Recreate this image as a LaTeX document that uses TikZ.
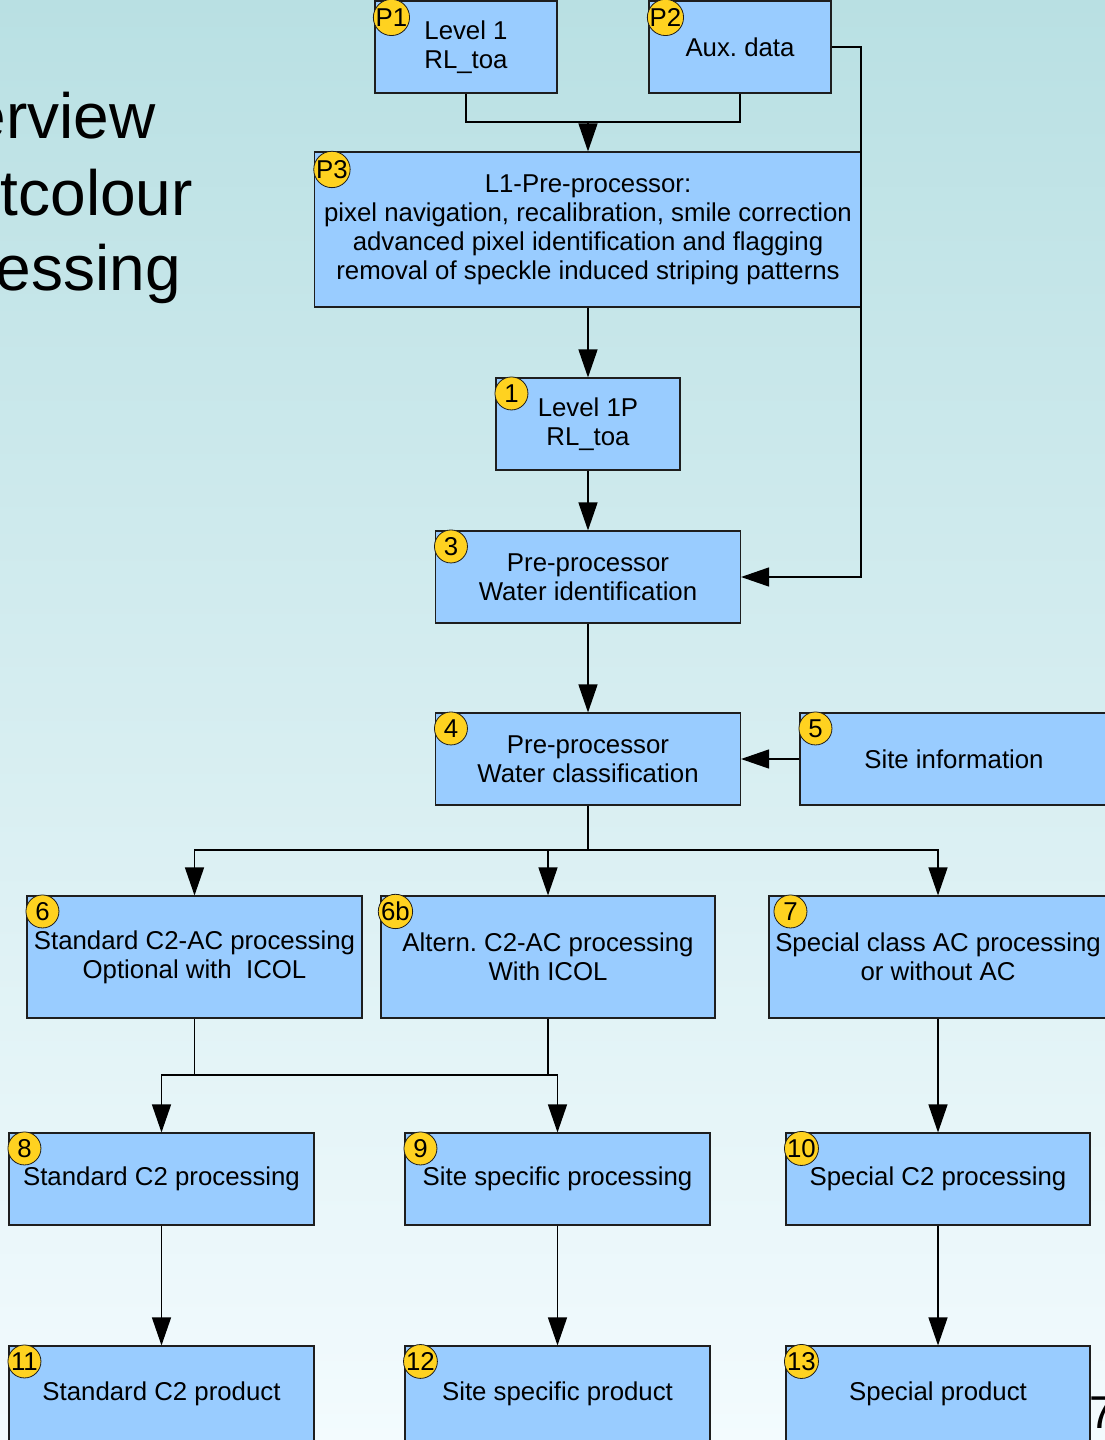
\documentclass[tikz,border=0pt]{standalone}
\usepackage{fontspec}
\setmainfont{Liberation Sans}
\usetikzlibrary{arrows.meta,calc}
\frenchspacing

\definecolor{bgtop}{RGB}{185,224,227}
\definecolor{bgbot}{RGB}{243,251,254}
\definecolor{boxfill}{RGB}{153,204,255}
\definecolor{boxline}{RGB}{30,30,30}
\definecolor{badgefill}{RGB}{255,210,32}

\tikzset{
  stepbox/.style={draw=boxline, line width=1.1pt, fill=boxfill, rectangle,
    align=center, inner sep=0pt, font=\fontsize{25.8}{29}\selectfont},
  badge/.style={circle, draw=boxline, line width=0.8pt, fill=badgefill,
    minimum size=33pt, inner sep=0pt, font=\fontsize{25.8}{29}\selectfont},
  link/.style={draw=black, line width=1.3pt},
  arr/.style={link, -{Triangle[length=28pt,width=19pt]}},
  title/.style={anchor=base east, inner sep=0pt, font=\fontsize{64}{76}\selectfont}
}

\begin{document}
\begin{tikzpicture}[x=1pt, y=-1pt]
  % page background
  \shade[top color=bgtop, bottom color=bgbot] (0,0) rectangle (1105,1440);
  \useasboundingbox (0,0) rectangle (1105,1440);

  % slide title (partly off the page)
  \node[title] (t1) at (156,138) {erview};
  \node[title] (t2) at (193,215) {tcolour};
  \node[title] (t3) at (181,290) {essing};

  % processing steps
  \node[stepbox, minimum width=182pt, minimum height=92pt] (p1) at (466,47) {Level 1\\RL\_toa};
  \node[stepbox, minimum width=182pt, minimum height=92pt] (p2) at (740,47) {Aux. data};
  \node[stepbox, minimum width=547pt, minimum height=155pt] (p3) at (588,229.5)
    {L1-Pre-processor:\\pixel navigation, recalibration, smile correction\\advanced pixel identification and flagging\\removal of speckle induced striping patterns};
  \node[stepbox, minimum width=184pt, minimum height=92pt] (n1) at (588,424) {Level 1P\\RL\_toa};
  \node[stepbox, minimum width=305pt, minimum height=92pt] (n3) at (588,577) {Pre-processor\\Water identification};
  \node[stepbox, minimum width=305pt, minimum height=92pt] (n4) at (588,759) {Pre-processor\\Water classification};
  \node[stepbox, minimum width=308pt, minimum height=92pt] (n5) at (954,759) {Site information};
  \node[stepbox, minimum width=335pt, minimum height=122pt] (n6) at (194.5,957) {Standard C2-AC processing\\Optional with\ \ ICOL};
  \node[stepbox, minimum width=334pt, minimum height=122pt] (n6b) at (548,957) {Altern. C2-AC processing\\With ICOL};
  \node[stepbox, minimum width=338pt, minimum height=122pt] (n7) at (938,957) {Special class AC processing\\or without AC};
  \node[stepbox, minimum width=305pt, minimum height=92pt] (n8) at (161.5,1179) {Standard C2 processing};
  \node[stepbox, minimum width=305pt, minimum height=92pt] (n9) at (557.5,1179) {Site specific processing};
  \node[stepbox, minimum width=304pt, minimum height=92pt] (n10) at (938,1179) {Special C2 processing};
  \node[stepbox, minimum width=305pt, minimum height=96pt] (n11) at (161.5,1394) {Standard C2 product};
  \node[stepbox, minimum width=305pt, minimum height=96pt] (n12) at (557.5,1394) {Site specific product};
  \node[stepbox, minimum width=304pt, minimum height=96pt] (n13) at (938,1394) {Special product};

  % step numbers
  \node[badge] (bp1) at ($(p1.north west)+(17,17)$) {P1};
  \node[badge] (bp2) at ($(p2.north west)+(17,17)$) {P2};
  \node[badge] (bp3) at ($(p3.north west)+(18,18)$) {P3};
  \node[badge] (b1) at ($(n1.north west)+(16,16)$) {1};
  \node[badge] (b3) at ($(n3.north west)+(16,16)$) {3};
  \node[badge] (b4) at ($(n4.north west)+(16,16)$) {4};
  \node[badge] (b5) at ($(n5.north west)+(16,16)$) {5};
  \node[badge] (b6) at ($(n6.north west)+(16,16)$) {6};
  \node[badge] (b6b) at ($(n6b.north west)+(15,16)$) {6b};
  \node[badge] (b7) at ($(n7.north west)+(22,16)$) {7};
  \node[badge] (b8) at ($(n8.north west)+(16,16)$) {8};
  \node[badge] (b9) at ($(n9.north west)+(16,16)$) {9};
  \node[badge] (b10) at ($(n10.north west)+(16,16)$) {10};
  \node[badge] (b11) at ($(n11.north west)+(16,16)$) {11};
  \node[badge] (b12) at ($(n12.north west)+(16,16)$) {12};
  \node[badge] (b13) at ($(n13.north west)+(16,16)$) {13};

  % page number
  \node[anchor=base west, inner sep=0pt, font=\fontsize{46}{50}\selectfont] (pg) at (1089,1428) {7};

  % connectors
  \coordinate (j1) at (588,122);
  \draw[link] (p1.south) |- (j1) -| (p2.south);
  \draw[arr] (j1) -- (p3.north);

  \coordinate (r1) at (861,577);
  \draw[arr] (p2.east) -| (r1) -- (n3.east);

  \draw[arr] (p3.south) -- (n1.north);
  \draw[arr] (n1.south) -- (n3.north);
  \draw[arr] (n3.south) -- (n4.north);
  \draw[arr] (n5.west) -- (n4.east);

  \coordinate (s4) at (588,850);
  \draw[link] (n4.south) -- (s4);
  \draw[arr] (s4) -| (n6.north);
  \draw[arr] (s4) -| (n6b.north);
  \draw[arr] (s4) -| (n7.north);

  \coordinate (j2) at (194.5,1075);
  \draw[link] (n6.south) -- (j2);
  \draw[link] (n6b.south) -- (n6b.south |- j2);
  \draw[arr] (j2) -| (n8.north);
  \draw[arr] (j2) -| (n9.north);

  \draw[arr] (n7.south) -- (n10.north);
  \draw[arr] (n8.south) -- (n11.north);
  \draw[arr] (n9.south) -- (n12.north);
  \draw[arr] (n10.south) -- (n13.north);
\end{tikzpicture}
\end{document}
